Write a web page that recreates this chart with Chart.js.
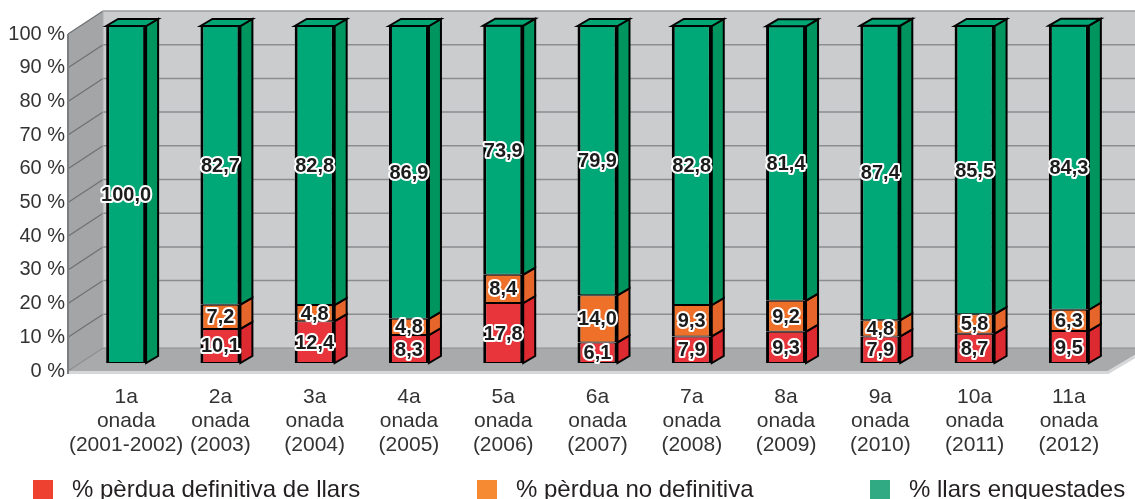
<!DOCTYPE html>
<html><head><meta charset="utf-8">
<script src="https://cdn.jsdelivr.net/npm/chart.js@4.4.1/dist/chart.umd.min.js"></script>
<style>
html,body{margin:0;padding:0;background:#fff;}
#wrap{position:relative;width:1135px;height:499px;overflow:hidden;font-family:"Liberation Sans",Arial,Helvetica,sans-serif;}
canvas{position:absolute;left:0;top:0;}
.lg{position:absolute;top:477px;height:24px;line-height:24px;font-size:24px;color:#231f20;white-space:nowrap;}
.lg i{position:absolute;top:3px;width:20px;height:22px;}
.lg span{position:absolute;top:0;}
</style></head><body>
<div id="wrap"><canvas id="c" width="1135" height="499"></canvas><div id="legend"></div></div>
<script>
// ---- data ----
const categories = [
  ["1a","onada","(2001-2002)"],["2a","onada","(2003)"],["3a","onada","(2004)"],
  ["4a","onada","(2005)"],["5a","onada","(2006)"],["6a","onada","(2007)"],
  ["7a","onada","(2008)"],["8a","onada","(2009)"],["9a","onada","(2010)"],
  ["10a","onada","(2011)"],["11a","onada","(2012)"]
];
const lossDefinitive = [null, 10.1, 12.4, 8.3, 17.8, 6.1, 7.9, 9.3, 7.9, 8.7, 9.5];
const lossTemporary  = [null, 7.2, 4.8, 4.8, 8.4, 14.0, 9.3, 9.2, 4.8, 5.8, 6.3];
const surveyed       = [100.0, 82.7, 82.8, 86.9, 73.9, 79.9, 82.8, 81.4, 87.4, 85.5, 84.3];
const seriesNames = ["% pèrdua definitiva de llars", "% pèrdua no definitiva", "% llars enquestades"];
const yTickValues = [0,10,20,30,40,50,60,70,80,90,100];

// ---- style ----
const frontColors = ["#e8353b", "#ef7129", "#00a878"];
const sideColors  = ["#dc2a30", "#e5652a", "#00945f"];
const topColors   = ["#e8353b", "#ef7129", "#00a674"];
const legendColors = ["#ee4130", "#f58a32", "#2faa82"];
const legendLeft = [33, 477, 870];
const DX = 12, DY = -7;          // bar depth
const WALL = {fdx:-11, bdx:24, fdy:8, bdy:-15};

const fmt = v => v.toFixed(1).replace('.', ',');

function poly(ctx, pts){ ctx.beginPath(); ctx.moveTo(pts[0][0],pts[0][1]); for(let i=1;i<pts.length;i++) ctx.lineTo(pts[i][0],pts[i][1]); ctx.closePath(); }

const wallPlugin = {
  id:'walls',
  beforeDraw(chart){
    const {ctx, chartArea:a, scales:{y}} = chart;
    const W = chart.width;
    const fx = a.left + WALL.fdx, bx = a.left + WALL.bdx;
    const fy = v => y.getPixelForValue(v) + WALL.fdy;
    const by = v => y.getPixelForValue(v) + WALL.bdy;
    ctx.save();
    // back wall
    ctx.fillStyle = '#cbcccd';
    ctx.fillRect(bx, by(100), W - bx, by(0) - by(100));
    // left wall
    poly(ctx, [[fx,fy(100)],[bx,by(100)],[bx,by(0)],[fx,fy(0)]]);
    ctx.fillStyle = '#a3a5a7'; ctx.fill();
    // floor
    poly(ctx, [[fx,fy(0)],[bx,by(0)],[W,by(0)],[W,by(0)+7],[a.right-8,fy(0)]]);
    ctx.fillStyle = '#a8aaac'; ctx.fill();
    // floor front edge
    ctx.beginPath(); ctx.moveTo(fx, fy(0)+1.5); ctx.lineTo(a.right-8, fy(0)+1.5); ctx.lineTo(W, by(0)+8.5);
    ctx.strokeStyle = '#d6d7d8'; ctx.lineWidth = 3; ctx.stroke();
    // grid lines
    yTickValues.forEach(v => {
      if (v === 0) return;
      ctx.beginPath(); ctx.moveTo(bx, by(v)); ctx.lineTo(W, by(v));
      ctx.strokeStyle = v === 100 ? '#9a9c9e' : '#8b8d8f'; ctx.lineWidth = 1.5; ctx.stroke();
      ctx.beginPath(); ctx.moveTo(fx, fy(v)); ctx.lineTo(bx, by(v));
      ctx.strokeStyle = '#6e7072'; ctx.lineWidth = 1.2; ctx.stroke();
    });
    // floor back edge
    ctx.beginPath(); ctx.moveTo(fx, fy(0)); ctx.lineTo(bx, by(0)); ctx.lineTo(W, by(0));
    ctx.strokeStyle = '#8b8d8f'; ctx.lineWidth = 1.2; ctx.stroke();
    // wall edges
    ctx.beginPath(); ctx.moveTo(fx, fy(100)); ctx.lineTo(fx, fy(0)+3);
    ctx.strokeStyle = '#7c7e80'; ctx.lineWidth = 2; ctx.stroke();
    ctx.beginPath(); ctx.moveTo(bx, by(100)); ctx.lineTo(bx, by(0));
    ctx.strokeStyle = '#a9abad'; ctx.lineWidth = 1; ctx.stroke();
    ctx.restore();
  }
};

const barPlugin = {
  id:'bars3d',
  afterDatasetsDraw(chart){
    const ctx = chart.ctx;
    const tops = {};
    ctx.save();
    ctx.lineJoin = 'miter';
    chart.data.datasets.forEach((ds, di) => {
      const meta = chart.getDatasetMeta(di);
      meta.data.forEach((bar, i) => {
        if (ds.data[i] == null) return;
        const p = bar.getProps(['x','y','base','width'], true);
        const r = p.x + p.width/2;
        poly(ctx, [[r,p.y],[r+DX,p.y+DY],[r+DX,p.base+DY],[r,p.base]]);
        ctx.fillStyle = sideColors[di]; ctx.fill();
        ctx.strokeStyle = '#000'; ctx.lineWidth = 2; ctx.stroke();
        tops[i] = {p, di};
      });
    });
    Object.values(tops).forEach(({p, di}) => {
      const l = p.x - p.width/2, r = p.x + p.width/2;
      poly(ctx, [[l,p.y],[l+DX,p.y+DY],[r+DX,p.y+DY],[r,p.y]]);
      ctx.fillStyle = topColors[di]; ctx.fill();
      ctx.strokeStyle = '#000'; ctx.lineWidth = 2; ctx.stroke();
    });
    // value labels
    ctx.font = 'bold 20px "Liberation Sans", Arial, sans-serif';
    ctx.textAlign = 'center'; ctx.textBaseline = 'middle';
    ctx.lineJoin = 'round';
    chart.data.datasets.forEach((ds, di) => {
      const meta = chart.getDatasetMeta(di);
      meta.data.forEach((bar, i) => {
        const v = ds.data[i];
        if (v == null) return;
        const p = bar.getProps(['x','y','base'], true);
        const t = fmt(v), cx = p.x, cy = (p.y + p.base)/2 + 1;
        ctx.strokeStyle = '#ffffff'; ctx.lineWidth = 4; ctx.strokeText(t, cx, cy);
        ctx.fillStyle = '#1c1c1c'; ctx.fillText(t, cx, cy);
      });
    });
    ctx.restore();
  }
};

const mk = (di, data) => ({
  label: seriesNames[di], data,
  backgroundColor: frontColors[di], borderColor: '#000',
  borderWidth: {left:3, right:3, top:1, bottom:1}, borderSkipped: false,
  barPercentage: 0.424, categoryPercentage: 1
});

new Chart(document.getElementById('c'), {
  type: 'bar',
  data: { labels: categories, datasets: [mk(0, lossDefinitive), mk(1, lossTemporary), mk(2, surveyed)] },
  options: {
    responsive: false, animation: false, devicePixelRatio: 1,
    layout: { padding: { top: 24, right: 19, left: 0, bottom: 0 } },
    plugins: { legend: { display: false }, tooltip: { enabled: false } },
    scales: {
      x: {
        stacked: true, grid: { display: false }, border: { display: false },
        afterFit: s => { s.height = 136; },
        ticks: { color: '#333', padding: 14, maxRotation: 0, minRotation: 0, autoSkip: false,
                 font: { family: '"Liberation Sans", Arial, sans-serif', size: 21, lineHeight: 1.14 } }
      },
      y: {
        stacked: true, min: 0, max: 100, grid: { display: false, drawTicks: false }, border: { display: false },
        afterFit: s => { s.width = 79; },
        afterBuildTicks: s => { s.ticks = yTickValues.map(v => ({ value: v })); },
        ticks: { color: '#333', padding: 14, labelOffset: 8, callback: v => v + ' %',
                 font: { family: '"Liberation Sans", Arial, sans-serif', size: 20 } }
      }
    }
  },
  plugins: [wallPlugin, barPlugin]
});

// legend
const lg = document.getElementById('legend');
seriesNames.forEach((n, i) => {
  const d = document.createElement('div');
  d.className = 'lg'; d.style.left = legendLeft[i] + 'px';
  d.innerHTML = '<i style="background:' + legendColors[i] + ';left:0"></i><span style="left:39px"></span>';
  d.querySelector('span').textContent = n;
  lg.appendChild(d);
});
</script>
</body></html>
